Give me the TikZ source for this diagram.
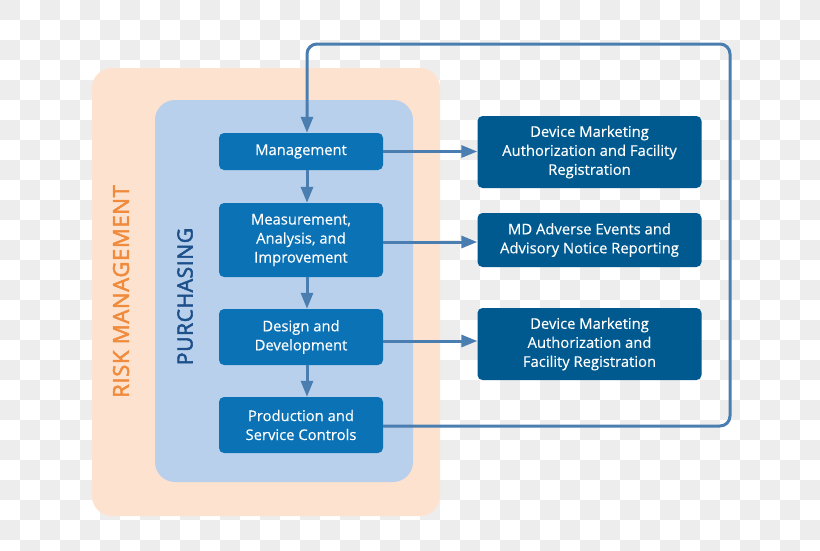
\documentclass[tikz,border=0pt]{standalone}
\usepackage{fontspec}
\setmainfont{Open Sans}
\usetikzlibrary{arrows.meta}
\definecolor{checker}{HTML}{EDEDED}
\definecolor{peach}{HTML}{FDE3CF}
\definecolor{lightblue}{HTML}{B8D0EB}
\definecolor{midblue}{HTML}{0B72B5}
\definecolor{darkblue}{HTML}{005A8F}
\definecolor{arrowblue}{HTML}{4A7DB0}
\definecolor{riskorange}{HTML}{F08A3C}
\definecolor{purchblue}{HTML}{1D4F8A}
\tikzset{
  boxfont/.style={font=\fontsize{14.8}{19}\selectfont\addfontfeatures{FakeBold=0.3}},
  lbox/.style={fill=midblue, rounded corners=5pt, minimum width=164pt, text=white, align=center,
    boxfont, inner sep=0pt},
  rbox/.style={fill=darkblue, rounded corners=5pt, minimum width=224pt, text=white, align=center,
    boxfont, inner sep=0pt},
  conn/.style={draw=arrowblue, line width=3pt, -{Triangle[length=16pt,width=12pt]}},
  loopline/.style={draw=arrowblue, line width=3pt, rounded corners=10pt, -{Triangle[length=16pt,width=12pt]}}
}
\begin{document}
\begin{tikzpicture}[x=1pt,y=-1pt]
\useasboundingbox (0,0) rectangle (820,550);
\begin{scope}
\clip (0,0) rectangle (820,550);
\fill[white] (0,0) rectangle (820,550);
\foreach \i in {0,...,40}{
  \foreach \j in {0,...,27}{
    \pgfmathtruncatemacro{\myparity}{mod(\i+\j,2)}
    \ifnum\myparity=0 \fill[checker] (20*\i,20*\j) rectangle ++(20,20); \fi
  }
}
\end{scope}
% backgrounds
\fill[peach, rounded corners=20pt] (92,68) rectangle (440,516);
\fill[lightblue, rounded corners=20pt] (155,100) rectangle (413,482);
\node[text=riskorange, rotate=90, font=\fontsize{22}{22}\selectfont\addfontfeatures{LetterSpace=3,FakeBold=2.5}] (risk) at (121,291.5) {RISK MANAGEMENT};
\node[text=purchblue, rotate=90, font=\fontsize{21}{21}\selectfont\addfontfeatures{LetterSpace=3,FakeBold=2.5}] (purch) at (185,296.5) {PURCHASING};
% left boxes
\node[lbox, minimum height=37pt] (mgmt) at (301,151.5) {Management};
\node[lbox, minimum height=74pt] (meas) at (301,240) {Measurement,\\Analysis, and\\Improvement};
\node[lbox, minimum height=56pt] (des) at (301,337) {Design and\\Development};
\node[lbox, minimum height=56pt] (prod) at (301,425) {Production and\\Service Controls};
% right boxes
\node[rbox, minimum height=72pt] (r1) at (589.5,152) {Device Marketing\\Authorization and Facility\\Registration};
\node[rbox, minimum height=54pt] (r2) at (589.5,240) {MD Adverse Events and\\Advisory Notice Reporting};
\node[rbox, minimum height=72pt] (r3) at (589.5,344) {Device Marketing\\Authorization and\\Facility Registration};
% vertical arrows
\draw[conn] ([xshift=6pt]mgmt.south) -- ([xshift=6pt]meas.north);
\draw[conn] ([xshift=6pt]meas.south) -- ([xshift=6pt]des.north);
\draw[conn] ([xshift=6pt]des.south) -- ([xshift=6pt]prod.north);
% horizontal arrows
\draw[conn] (mgmt.east) -- (mgmt.east -| r1.west);
\draw[conn] ([yshift=-2pt]meas.east) -- ([yshift=-2pt]meas.east -| r2.west);
\draw[conn] ([yshift=-4pt]des.east) -- ([yshift=-4pt]des.east -| r3.west);
% loop
\coordinate (tr) at (730,44);
\draw[loopline] ([yshift=-1pt]prod.east) -| (tr) -| ([xshift=6pt]mgmt.north);
\end{tikzpicture}
\end{document}
